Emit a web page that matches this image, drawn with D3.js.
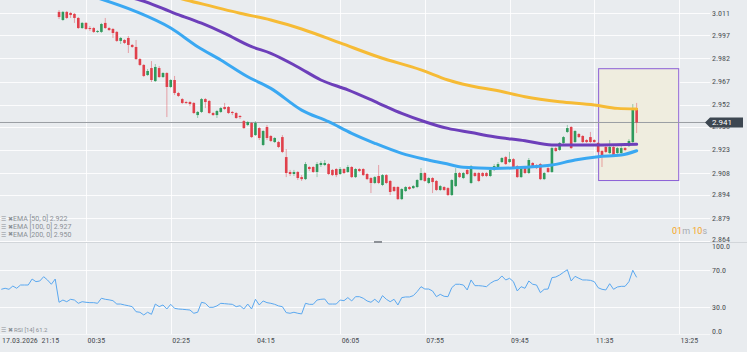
<!DOCTYPE html>
<html lang="en">
<head>
<meta charset="UTF-8">
<title>Candles EMA RSI</title>
<script src="https://cdnjs.cloudflare.com/ajax/libs/d3/7.8.5/d3.min.js"></script>
<style>
  body { margin: 0; background: #e9ecef; }
  svg { display: block; }
  .ax text { font-family: "Liberation Sans Narrow", "Roboto Condensed", Roboto, sans-serif; font-size: 8px; fill: #4b4f54; }
  .leg { font-family: "Liberation Sans Narrow", Roboto, sans-serif; fill: #8a8f95; }
</style>
</head>
<body>
<div id="wrapper"></div>
<script>
// 5 minute bars, 18.03.2026 from 00:00
const firstBar = "2026-03-18 00:00"
const barMinutes = 5

const opens = [3.0119,3.0067,3.0119,3.0112,3.0106,3.0080,3.0015,3.0048,3.0015,3.0015,2.9990,2.9990,3.0048,3.0015,3.0009,2.9990,2.9932,2.9938,2.9951,2.9906,
  2.9893,2.9815,2.9777,2.9712,2.9757,2.9673,2.9757,2.9699,2.9725,2.9635,2.9680,2.9596,2.9557,2.9538,2.9538,2.9532,2.9454,2.9474,2.9557,2.9545,
  2.9467,2.9454,2.9474,2.9506,2.9506,2.9474,2.9467,2.9448,2.9415,2.9390,2.9403,2.9325,2.9370,2.9261,2.9377,2.9319,2.9280,2.9280,2.9312,2.9183,
  2.9087,2.9074,2.9087,2.9054,2.9041,2.9119,2.9119,2.9087,2.9132,2.9132,2.9138,2.9100,2.9106,2.9074,2.9106,2.9087,2.9119,2.9054,2.9106,2.9106,
  2.9074,2.9048,2.9016,2.9061,2.9003,2.9067,2.9029,2.8990,2.8990,2.8912,2.8964,2.8990,2.8983,2.8990,2.9035,2.9080,2.9016,2.9048,2.9029,2.8971,
  2.8990,2.8983,2.8938,2.8996,2.9080,2.9048,2.9100,2.9016,2.9080,2.9080,2.9080,2.9080,2.9061,2.9100,2.9112,2.9151,2.9183,2.9151,2.9170,2.9125,
  2.9054,2.9112,2.9080,2.9145,2.9132,2.9138,2.9041,2.9112,2.9087,2.9241,2.9229,2.9274,2.9345,2.9377,2.9280,2.9332,2.9319,2.9293,2.9312,2.9293,
  2.9274,2.9222,2.9248,2.9209,2.9248,2.9209,2.9209,2.9241,2.9254,2.9280,2.9499]
const highs = [3.0131,3.0125,3.0125,3.0119,3.0112,3.0086,3.0054,3.0054,3.0028,3.0022,3.0002,3.0048,3.0080,3.0022,3.0015,2.9996,2.9957,2.9944,2.9964,2.9912,
  2.9938,2.9822,2.9783,2.9751,2.9802,2.9783,2.9770,2.9731,2.9731,2.9686,2.9706,2.9603,2.9564,2.9545,2.9545,2.9538,2.9480,2.9564,2.9564,2.9551,
  2.9474,2.9487,2.9506,2.9532,2.9512,2.9480,2.9474,2.9454,2.9422,2.9415,2.9409,2.9415,2.9377,2.9357,2.9390,2.9325,2.9312,2.9287,2.9325,2.9235,
  2.9100,2.9100,2.9093,2.9067,2.9151,2.9125,2.9125,2.9151,2.9157,2.9164,2.9145,2.9106,2.9112,2.9119,2.9112,2.9132,2.9125,2.9112,2.9112,2.9112,
  2.9080,2.9054,2.9061,2.9132,2.9074,2.9074,2.9035,2.8996,2.8996,2.8983,2.8996,2.8996,2.9003,2.9041,2.9112,2.9087,2.9054,2.9054,2.9035,2.9003,
  2.8996,2.8990,2.9041,2.9112,2.9087,2.9087,2.9106,2.9132,2.9087,2.9087,2.9087,2.9087,2.9112,2.9138,2.9151,2.9183,2.9190,2.9216,2.9177,2.9132,
  2.9119,2.9119,2.9177,2.9151,2.9138,2.9145,2.9087,2.9119,2.9248,2.9248,2.9280,2.9319,2.9390,2.9383,2.9357,2.9338,2.9325,2.9299,2.9345,2.9299,
  2.9280,2.9229,2.9254,2.9293,2.9254,2.9248,2.9254,2.9248,2.9299,2.9525,2.9532]
const lows = [3.0073,3.0061,3.0073,3.0080,3.0048,3.0009,3.0009,3.0002,2.9996,2.9983,2.9983,2.9983,3.0009,2.9996,2.9951,2.9925,2.9912,2.9912,2.9854,2.9887,
  2.9809,2.9770,2.9699,2.9706,2.9667,2.9667,2.9693,2.9693,2.9441,2.9628,2.9583,2.9570,2.9525,2.9525,2.9512,2.9461,2.9435,2.9467,2.9499,2.9461,
  2.9448,2.9435,2.9467,2.9487,2.9461,2.9454,2.9429,2.9429,2.9364,2.9383,2.9306,2.9319,2.9293,2.9254,2.9293,2.9280,2.9274,2.9241,2.9209,2.9054,
  2.9061,2.9061,2.9035,2.9029,2.9035,2.9093,2.9080,2.9054,2.9119,2.9125,2.9067,2.9061,2.9054,2.9067,2.9074,2.9080,2.9048,2.9048,2.9087,2.9061,
  2.9035,2.8951,2.9009,2.9009,2.8996,2.9009,2.8938,2.8958,2.8906,2.8906,2.8958,2.8971,2.8977,2.8983,2.9029,2.9022,2.9009,2.8951,2.8964,2.8964,
  2.8964,2.8932,2.8932,2.8990,2.9048,2.9041,2.9067,2.9009,2.9054,2.9022,2.9054,2.9054,2.9054,2.9093,2.9106,2.9145,2.9132,2.9145,2.9106,2.9048,
  2.9048,2.9074,2.9074,2.9119,2.9106,2.9035,2.9035,2.9080,2.9080,2.9216,2.9222,2.9267,2.9338,2.9235,2.9274,2.9306,2.9274,2.9274,2.9274,2.9274,
  2.9209,2.9119,2.9209,2.9203,2.9190,2.9203,2.9203,2.9222,2.9248,2.9274,2.9338]
const closes = [3.0086,3.0119,3.0080,3.0099,3.0080,3.0015,3.0048,3.0009,3.0009,2.9990,2.9996,3.0041,3.0015,3.0002,2.9983,2.9932,2.9951,2.9919,2.9906,2.9893,
  2.9815,2.9777,2.9706,2.9738,2.9680,2.9764,2.9699,2.9725,2.9635,2.9680,2.9596,2.9577,2.9532,2.9532,2.9525,2.9467,2.9474,2.9557,2.9538,2.9467,
  2.9454,2.9480,2.9499,2.9493,2.9467,2.9467,2.9435,2.9441,2.9370,2.9409,2.9312,2.9403,2.9306,2.9351,2.9306,2.9287,2.9306,2.9248,2.9216,2.9080,
  2.9074,2.9087,2.9048,2.9041,2.9138,2.9106,2.9087,2.9138,2.9145,2.9145,2.9074,2.9067,2.9067,2.9106,2.9080,2.9119,2.9054,2.9106,2.9093,2.9067,
  2.9041,2.9016,2.9054,2.9016,2.9067,2.9016,2.8958,2.8964,2.8912,2.8977,2.8990,2.8977,2.8996,2.9035,2.9080,2.9029,2.9048,2.9022,2.8971,2.8996,
  2.8971,2.8938,2.9035,2.9080,2.9054,2.9080,2.9074,2.9125,2.9061,2.9029,2.9061,2.9061,2.9100,2.9125,2.9138,2.9177,2.9138,2.9170,2.9112,2.9054,
  2.9112,2.9080,2.9164,2.9125,2.9112,2.9041,2.9080,2.9087,2.9241,2.9222,2.9274,2.9312,2.9370,2.9241,2.9351,2.9312,2.9280,2.9280,2.9280,2.9280,
  2.9216,2.9196,2.9216,2.9248,2.9196,2.9241,2.9241,2.9229,2.9287,2.9487,2.9406]

// EMA readings [bar index, value]
const ema50 = [[10,3.0209],[20,3.0121],[29,3.0015],[36,2.9895],[42,2.9809],[49,2.9701],[55,2.9626],[63,2.9486],[70,2.9411],[76,2.9336],
  [82,2.9272],[89,2.9207],[95,2.9169],[100,2.9143],[105,2.9117],[113,2.9110],[121,2.9117],[128,2.9132],[134,2.9164],[140,2.9185],[146,2.9196],[150,2.9224]]
const ema100 = [[19,3.0209],[21,3.0196],[30,3.0110],[37,3.0046],[43,2.9981],[50,2.9895],[55,2.9852],[62,2.9764],[68,2.9680],[75,2.9616],
  [83,2.9530],[89,2.9465],[95,2.9411],[101,2.9368],[107,2.9341],[113,2.9314],[121,2.9288],[128,2.9261],[134,2.9261],[141,2.9261],[150,2.9265]]
const ema200 = [[31,3.0209],[33,3.0196],[40,3.0153],[47,3.0110],[55,3.0067],[63,3.0009],[73,2.9919],[83,2.9828],[94,2.9745],[101,2.9680],
  [109,2.9632],[113,2.9616],[121,2.9572],[130,2.9540],[139,2.9519],[145,2.9497],[150,2.9493]]
const emaNames = ["EMA [50, 0]", "EMA [100, 0]", "EMA [200, 0]"]
const emaLast = [2.922, 2.927, 2.950]

// RSI 14, first value is bar -15 (before 00:00)
const rsiStart = -15
const rsi = [49.3,50.4,49.3,52.8,50.4,53.9,53.9,53.9,60.3,57.5,58.2,62.8,59.3,54.7,60.3,
  35.4,37.8,36.0,38.6,37.8,34.3,36.0,35.4,35.0,35.0,34.3,39.7,38.6,38.0,37.1,33.5,33.5,32.5,31.7,30.7,
  25.3,24.7,21.8,24.7,22.5,33.5,30.7,32.5,28.2,33.2,28.9,28.2,27.9,27.5,27.1,23.6,24.7,35.4,34.3,30.0,
  30.0,31.5,34.3,33.9,33.5,33.2,30.7,31.7,28.2,33.5,28.2,38.6,32.5,36.8,35.0,34.3,33.2,31.5,30.7,24.3,
  23.6,24.7,23.6,22.9,34.3,33.2,33.2,37.8,38.6,38.9,33.5,33.5,33.5,37.8,37.1,40.4,36.8,41.4,41.4,39.7,
  36.8,35.4,38.6,35.0,42.5,38.6,36.0,38.6,32.5,40.4,41.1,41.1,42.5,46.8,52.1,49.6,49.6,47.5,41.4,43.9,
  41.8,41.4,51.1,54.7,54.7,53.9,48.6,59.3,53.2,53.2,52.8,52.1,55.7,58.2,59.3,63.6,59.3,61.1,57.5,47.5,
  52.1,50.4,58.2,54.7,53.9,45.7,49.3,49.6,61.8,62.5,64.6,67.5,70.3,58.2,63.2,61.1,59.3,59.3,58.9,57.5,
  51.0,49.3,48.6,55.3,49.3,51.8,52.5,52.5,57.5,69.7,62.1]
const rsiLast = 61.2

// axes
const priceTicks = [2.864, 2.879, 2.894, 2.908, 2.923, 2.938, 2.952, 2.967, 2.982, 2.997, 3.011]
const rsiTicks = [0, 30, 70, 100]
const timeTicks = ["00:35", "02:25", "04:15", "06:05", "07:55", "09:45", "11:35", "13:25"]
const startLabel = "17.03.2026  21:15"

// rectangle drawn on the chart
const boxFrom = "11:40", boxTo = "13:24", boxHigh = 2.9756, boxLow = 2.9035
const countdown = ["01", "m ", "10", "s"]

const width = 747, height = 352
const plotRight = 710
const mainBottom = 242, rsiBottom = 335

const parseTime = d3.timeParse("%Y-%m-%d %H:%M")
const t0 = parseTime(firstBar)
const barTime = i => new Date(t0.getTime() + i * barMinutes * 60000)
const dayTime = s => parseTime("2026-03-18 " + s)

const candles = opens.map((o, i) => ({ t: barTime(i), o: o, h: highs[i], l: lows[i], c: closes[i] }))

const xScale = d3.scaleTime()
  .domain([dayTime("00:35"), dayTime("13:25")])
  .range([86, 679])
const yScale = d3.scaleLinear()
  .domain([2.864, 3.011])
  .range([241.3, 13.3])
const rScale = d3.scaleLinear()
  .domain([0, 100])
  .range([335.3, 242])

const svg = d3.select("#wrapper").append("svg")
  .attr("width", width)
  .attr("height", height)

svg.append("rect").attr("width", width).attr("height", height).attr("fill", "#e9ecef")

const defs = svg.append("defs")
defs.append("clipPath").attr("id", "clipMain")
  .append("rect").attr("x", 0).attr("y", 0).attr("width", plotRight).attr("height", mainBottom)
defs.append("clipPath").attr("id", "clipRsi")
  .append("rect").attr("x", 0).attr("y", mainBottom + 1).attr("width", plotRight).attr("height", rsiBottom - mainBottom - 1)

// grid
const grid = svg.append("g")
grid.selectAll(".vg").data(timeTicks).join("line")
  .attr("x1", d => Math.round(xScale(dayTime(d))) + 0.5)
  .attr("x2", d => Math.round(xScale(dayTime(d))) + 0.5)
  .attr("y1", 0).attr("y2", rsiBottom)
  .attr("stroke", "#ffffff").attr("stroke-opacity", 0.85)
grid.selectAll(".hg").data(priceTicks).join("line")
  .attr("x1", 0).attr("x2", plotRight)
  .attr("y1", d => Math.round(yScale(d)) + 0.5)
  .attr("y2", d => Math.round(yScale(d)) + 0.5)
  .attr("stroke", "#ffffff").attr("stroke-opacity", 0.85)
grid.selectAll(".rg").data([30, 70]).join("line")
  .attr("x1", 0).attr("x2", plotRight)
  .attr("y1", d => Math.round(rScale(d)) + 0.5)
  .attr("y2", d => Math.round(rScale(d)) + 0.5)
  .attr("stroke", "#ffffff").attr("stroke-opacity", 0.85)

// pane separator and bottom line
svg.append("line").attr("x1", 0).attr("x2", width).attr("y1", mainBottom + 0.5).attr("y2", mainBottom + 0.5)
  .attr("stroke", "#d2d6da")
svg.append("line").attr("x1", 0).attr("x2", plotRight).attr("y1", rsiBottom - 0.5).attr("y2", rsiBottom - 0.5)
  .attr("stroke", "#f6f7f8")
svg.append("rect").attr("x", 374).attr("y", mainBottom - 1).attr("width", 8).attr("height", 2).attr("fill", "#8c9096")

const main = svg.append("g").attr("clip-path", "url(#clipMain)")

// box
main.append("rect")
  .attr("x", xScale(dayTime(boxFrom)) + 0.5)
  .attr("y", yScale(boxHigh) + 0.5)
  .attr("width", xScale(dayTime(boxTo)) - xScale(dayTime(boxFrom)))
  .attr("height", yScale(boxLow) - yScale(boxHigh))
  .attr("fill", "#efeddf")
  .attr("stroke", "#8b5fd6")
  .attr("stroke-width", 1)

// current price line
const lastClose = closes[closes.length - 1]
main.append("line")
  .attr("x1", 0).attr("x2", plotRight)
  .attr("y1", yScale(lastClose)).attr("y2", yScale(lastClose))
  .attr("stroke", "#9a9ea3").attr("stroke-width", 1)

// candles
const green = "#2f9a5c", red = "#e0404b"
const bw = 2.6
const bars = main.append("g").selectAll("g").data(candles).join("g")
bars.append("line")
  .attr("x1", d => xScale(d.t)).attr("x2", d => xScale(d.t))
  .attr("y1", d => yScale(d.h)).attr("y2", d => yScale(d.l))
  .attr("stroke", d => d.c >= d.o ? green : red)
  .attr("stroke-opacity", 0.45)
  .attr("stroke-width", 1)
bars.append("rect")
  .attr("x", d => xScale(d.t) - bw / 2)
  .attr("y", d => yScale(Math.max(d.o, d.c)))
  .attr("width", bw)
  .attr("height", d => Math.max(1, yScale(Math.min(d.o, d.c)) - yScale(Math.max(d.o, d.c))))
  .attr("fill", d => d.c >= d.o ? green : red)

// EMAs
const emaLine = d3.line()
  .x(d => xScale(barTime(d[0])))
  .y(d => yScale(d[1]))
  .curve(d3.curveMonotoneX)
const emaSets = [
  { pts: ema200, color: "#f6bb35" },
  { pts: ema100, color: "#6d3fba" },
  { pts: ema50, color: "#3aa8f2" }
]
emaSets.forEach(s => {
  main.append("path")
    .attr("d", emaLine(s.pts))
    .attr("fill", "none")
    .attr("stroke", s.color)
    .attr("stroke-width", 3)
    .attr("stroke-linecap", "round")
})

// RSI
const rsiLine = d3.line()
  .x((d, i) => xScale(barTime(rsiStart + i)))
  .y(d => rScale(d))
svg.append("g").attr("clip-path", "url(#clipRsi)")
  .append("path")
  .attr("d", rsiLine(rsi))
  .attr("fill", "none")
  .attr("stroke", "#5aa8f0")
  .attr("stroke-width", 1)

// price axis
const yAxisG = svg.append("g").attr("class", "ax")
  .attr("transform", `translate(${plotRight},0)`)
  .call(d3.axisRight(yScale).tickValues(priceTicks).tickSize(0).tickPadding(2).tickFormat(d3.format(".3f")))
yAxisG.select(".domain").remove()
yAxisG.selectAll(".tick").attr("transform", d => `translate(0,${Math.min(yScale(d), 239)})`)

const rAxisG = svg.append("g").attr("class", "ax")
  .attr("transform", `translate(${plotRight},0)`)
  .call(d3.axisRight(rScale).tickValues(rsiTicks).tickSize(0).tickPadding(2).tickFormat(d3.format(".1f")))
rAxisG.select(".domain").remove()
rAxisG.selectAll(".tick").attr("transform", d => `translate(0,${Math.max(246.5, Math.min(rScale(d), 331.5))})`)

// time axis
const xAxisG = svg.append("g").attr("class", "ax")
  .attr("transform", `translate(0,${rsiBottom})`)
  .call(d3.axisBottom(xScale).tickValues(timeTicks.map(dayTime)).tickSize(0).tickPadding(2).tickFormat(d3.timeFormat("%H:%M")))
xAxisG.select(".domain").remove()
xAxisG.selectAll(".tick text").attr("text-anchor", "start").attr("x", 1)
xAxisG.append("text")
  .attr("x", 2).attr("y", 2).attr("dy", "0.71em")
  .attr("fill", "#4b4f54")
  .attr("text-anchor", "start")
  .style("white-space", "pre")
  .text(startLabel)

// current price marker
const py = yScale(lastClose)
svg.append("path")
  .attr("d", `M${plotRight - 5},${py} L${plotRight},${py - 5} L${plotRight + 33},${py - 5} L${plotRight + 33},${py + 5} L${plotRight},${py + 5} Z`)
  .attr("fill", "#3d4751")
svg.append("text")
  .attr("x", plotRight + 2).attr("y", py).attr("dy", "0.35em")
  .attr("font-family", "\"Liberation Sans Narrow\", Roboto, sans-serif")
  .attr("font-size", 8)
  .attr("fill", "#ffffff")
  .text(d3.format(".3f")(lastClose))

// countdown
const cd = svg.append("text")
  .attr("x", 672).attr("y", 233.5)
  .attr("font-family", "Roboto, sans-serif")
  .attr("font-size", 9)
cd.selectAll("tspan").data(countdown).join("tspan")
  .attr("fill", (d, i) => i % 2 === 0 ? "#f5a623" : "#a7abb0")
  .text(d => d)

// legends
const legRows = svg.append("g")
emaNames.forEach((name, i) => {
  const y = 219 + i * 7.7
  legRows.append("text").attr("class", "leg").attr("x", 1).attr("y", y).attr("dy", "0.35em")
    .attr("font-size", 6).text("\u2630")
  legRows.append("text").attr("class", "leg").attr("x", 7.5).attr("y", y).attr("dy", "0.35em")
    .attr("font-size", 5.5).text("\u2716")
  legRows.append("text").attr("class", "leg").attr("x", 13).attr("y", y).attr("dy", "0.35em")
    .attr("font-size", 7).text(name + " " + d3.format(".3f")(emaLast[i]))
})
legRows.append("text").attr("class", "leg").attr("x", 1).attr("y", 330).attr("dy", "0.35em")
  .attr("font-size", 6).text("\u2630")
legRows.append("text").attr("class", "leg").attr("x", 7.5).attr("y", 330).attr("dy", "0.35em")
  .attr("font-size", 5.5).text("\u2716")
legRows.append("text").attr("class", "leg").attr("x", 14).attr("y", 330).attr("dy", "0.35em")
  .attr("font-size", 6).text("RSI [14] " + rsiLast)
</script>
</body>
</html>
